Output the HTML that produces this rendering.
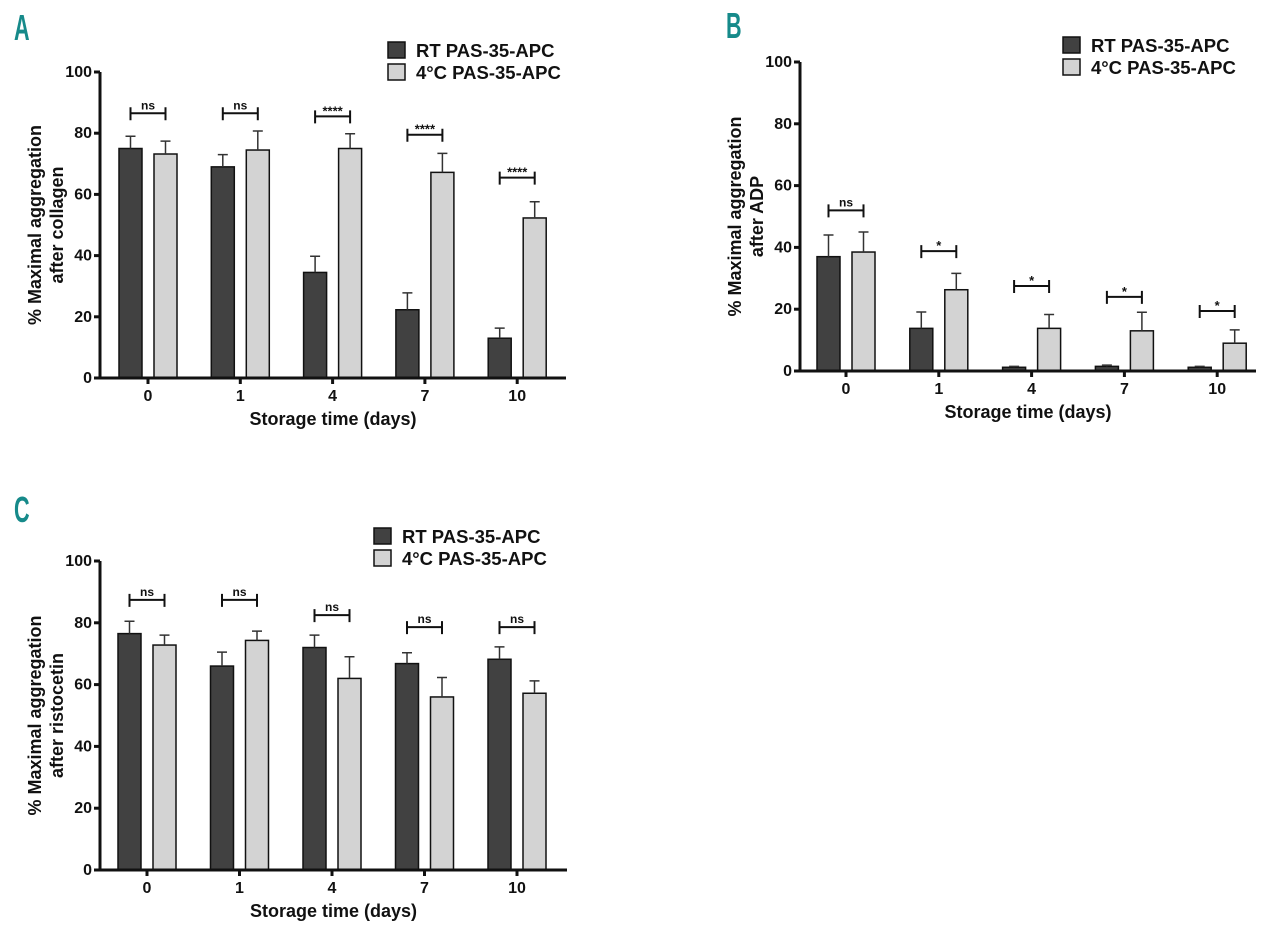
<!DOCTYPE html>
<html><head><meta charset="utf-8"><style>
html,body{margin:0;padding:0;background:#fff}
svg text{font-family:"Liberation Sans",sans-serif;font-weight:bold;fill:#111}
</style></head><body>
<svg id="fig" width="1280" height="940" viewBox="0 0 1280 940" xmlns="http://www.w3.org/2000/svg"></svg>
<script>
const categories = ["0","1","4","7","10"];
const yTicks = [0,20,40,60,80,100];
// Panel A
const aRT = [75,69,34.5,22.3,13];
const aRTerr = [4,4,5.3,5.5,3.3];
const a4C = [73.2,74.5,75,67.2,52.3];
const a4Cerr = [4.2,6.2,4.8,6.2,5.3];
const aSigY = [86.5,86.5,85.5,79.5,65.5];
const aSig = ["ns","ns","****","****","****"];
// Panel B
const bRT = [37,13.8,1.2,1.5,1.2];
const bRTerr = [7,5.3,0.3,0.4,0.3];
const b4C = [38.5,26.3,13.8,13,9];
const b4Cerr = [6.5,5.3,4.5,6,4.3];
const bSigY = [52,38.8,27.5,24,19.4];
const bSig = ["ns","*","*","*","*"];
// Panel C
const cRT = [76.5,66,72,66.8,68.2];
const cRTerr = [4,4.5,4,3.5,4];
const c4C = [72.8,74.3,62,56,57.2];
const c4Cerr = [3.2,3,7,6.3,4];
const cSigY = [87.4,87.4,82.5,78.6,78.6];
const cSig = ["ns","ns","ns","ns","ns"];

const NS="http://www.w3.org/2000/svg";
const svg=document.getElementById('fig');
function mk(tag,attrs,parent,txt){const e=document.createElementNS(NS,tag);for(const k in attrs)e.setAttribute(k,attrs[k]);if(txt!==undefined)e.textContent=txt;(parent||svg).appendChild(e);return e;}

function panel(cfg){
  const g=mk('g',{});
  
  
  const y=v=>cfg.y0-(v/100)*(cfg.y0-cfg.y100);
  const x=i=>cfg.cx0+i*cfg.step;
  const L=mk('text',{x:cfg.letterX,y:cfg.letterY,'font-size':36,style:'fill:#168a8a',transform:`translate(${cfg.letterX} 0) scale(0.6 1) translate(${-cfg.letterX} 0)`},g,cfg.id.toUpperCase());
  
  
  for(let i=0;i<categories.length;i++){
    const c=x(i);
    [[cfg.rt,cfg.rterr,-17.5,'#414141','rt'],[cfg.c4,cfg.c4err,17.5,'#d3d3d3','4c']].forEach(s=>{
      const v=s[0][i],e=s[1][i],bx=c+s[2]-11.5;
      const r=mk('rect',{x:bx,y:y(v),width:23,height:cfg.y0-y(v),fill:s[3],stroke:'#111','stroke-width':1.5},g);
      
      
      const eb=mk('path',{d:`M${c+s[2]} ${y(v)} V${y(v+e)} M${c+s[2]-5} ${y(v+e)} H${c+s[2]+5}`,stroke:'#333','stroke-width':1.5,fill:'none'},g);
      
      
    });
    const sy=y(cfg.sigY[i]);
    const br=mk('path',{d:`M${c-17.5} ${sy+7} V${sy-6} M${c-17.5} ${sy} H${c+17.5} M${c+17.5} ${sy+7} V${sy-6}`,stroke:'#111','stroke-width':2,fill:'none'},g);
    
    
    const st=mk('text',{x:c,y:sy-(cfg.sig[i]==='ns'?4:1),'font-size':cfg.sig[i]==='ns'?12:13,'text-anchor':'middle'},g,cfg.sig[i]);
    
    
    const xt=mk('text',{x:c,y:cfg.y0+23,'font-size':16,'text-anchor':'middle'},g,categories[i]);
    
    
    mk('line',{x1:c,x2:c,y1:cfg.y0,y2:cfg.y0+6,stroke:'#111','stroke-width':3},g);
  }
  const ax=mk('path',{d:`M${cfg.ax} ${cfg.y100} V${cfg.y0} H${cfg.axEnd}`,stroke:'#111','stroke-width':3,fill:'none'},g);
  
  
  yTicks.forEach(t=>{
    mk('line',{x1:cfg.ax-6,x2:cfg.ax,y1:y(t),y2:y(t),stroke:'#111','stroke-width':3},g);
    const yt=mk('text',{x:cfg.ax-8,y:y(t)+5,'font-size':16,'text-anchor':'end'},g,String(t));
    
    
  });
  const xtitle=mk('text',{x:(cfg.ax+cfg.axEnd)/2,y:cfg.y0+47,'font-size':18,'text-anchor':'middle'},g,'Storage time (days)');
  
  
  const ym=(cfg.y0+cfg.y100)/2;
  const yt1=mk('text',{x:0,y:0,'font-size':18,'text-anchor':'middle',transform:`translate(${cfg.ax-59} ${ym}) rotate(-90)`},g,'% Maximal  aggregation');
  
  
  const yt2=mk('text',{x:0,y:0,'font-size':18,'text-anchor':'middle',transform:`translate(${cfg.ax-37} ${ym}) rotate(-90)`},g,cfg.ylab2);
  
  
  [['RT PAS-35-APC','#414141'],['4°C PAS-35-APC','#d3d3d3']].forEach((l,k)=>{
    const ly=cfg.legY+k*22;
    const lb=mk('rect',{x:cfg.legX,y:ly,width:17,height:16,fill:l[1],stroke:'#111','stroke-width':1.5},g);
    
    
    const lt=mk('text',{x:cfg.legX+28,y:ly+15,'font-size':18.5},g,l[0]);
    
    
  });
}
panel({id:'a',y0:378,y100:72,ax:100,axEnd:566,cx0:148,step:92.3,rt:aRT,rterr:aRTerr,c4:a4C,c4err:a4Cerr,sigY:aSigY,sig:aSig,ylab2:'after collagen',legX:388,legY:42,letterX:14,letterY:40});
panel({id:'b',y0:371,y100:62,ax:800,axEnd:1256,cx0:846,step:92.8,rt:bRT,rterr:bRTerr,c4:b4C,c4err:b4Cerr,sigY:bSigY,sig:bSig,ylab2:'after ADP',legX:1063,legY:37,letterX:726,letterY:38});
panel({id:'c',y0:870,y100:561,ax:100,axEnd:567,cx0:147,step:92.5,rt:cRT,rterr:cRTerr,c4:c4C,c4err:c4Cerr,sigY:cSigY,sig:cSig,ylab2:'after ristocetin',legX:374,legY:528,letterX:14,letterY:522});
</script>
</body></html>
